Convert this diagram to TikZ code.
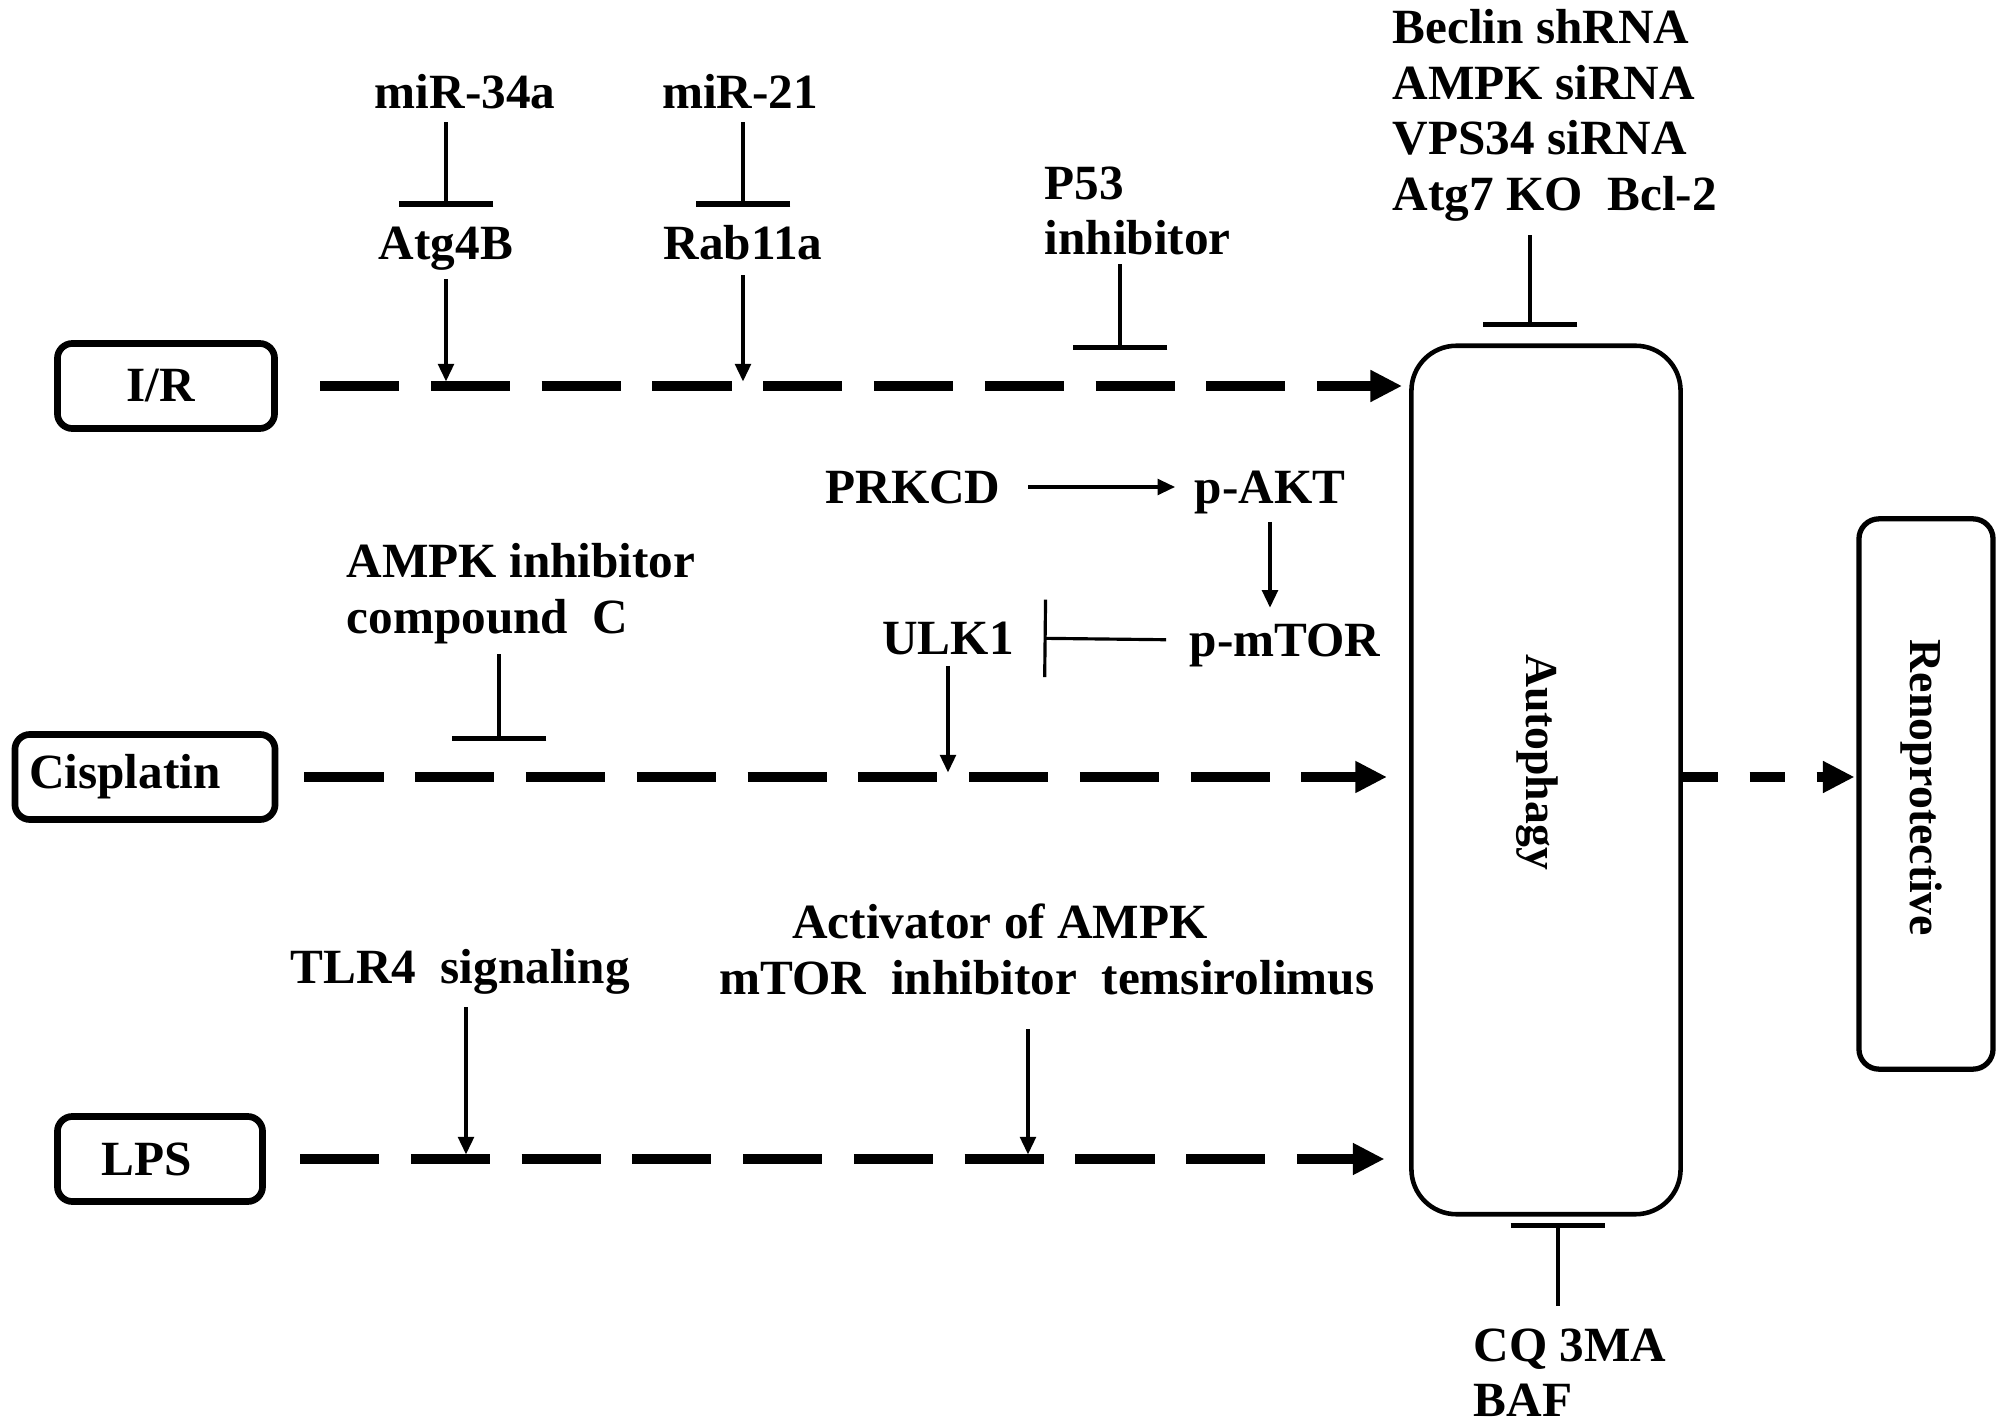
\documentclass[tikz,border=0pt]{standalone}
\usepackage{fontspec}
\setmainfont{Liberation Serif}
\usetikzlibrary{arrows.meta,positioning}

\begin{document}
\begin{tikzpicture}[
  x=0.01cm, y=-0.01cm,
  lbl/.style={font=\fontsize{14}{15.8}\selectfont\bfseries, inner sep=0pt, text height=9.4pt, text depth=0pt},
  multi/.style={font=\fontsize{14}{15.8}\selectfont\bfseries, inner sep=0pt, align=left, anchor=north west},
  stim/.style={draw, line width=1.9pt, rounded corners=0.15cm, minimum height=0.85cm, font=\fontsize{14}{15.8}\selectfont\bfseries},
  stage/.style={draw, line width=1.3pt},
  vtext/.style={rotate=-90, inner sep=0pt, font=\fontsize{13}{15}\selectfont\bfseries},
  pathway/.style={line width=2.6pt, dash pattern=on 22.5pt off 9pt, -{Triangle[length=9pt, width=8.5pt]}},
  act/.style={line width=0.9pt, -{Triangle[length=5pt, width=4.5pt]}},
  inhib/.style={line width=0.9pt, -{Bar[width=27pt, line width=1.5pt]}}
]
  \useasboundingbox (0,0) rectangle (2008,1428);

  % stimuli and outcome
  \node[stim, minimum width=2.17cm] (ir) at (166,386) {I/R\kern0.1cm};
  \node[stim, minimum width=2.60cm] (cis) at (145,777) {Cisplatin\kern0.4cm};
  \node[stim, minimum width=2.05cm] (lps) at (160,1159) {LPS\kern0.26cm};
  \node[stage, rounded corners=0.45cm, minimum width=2.69cm, minimum height=8.68cm] (autophagy) at (1546,780) {};
  \node[vtext] (autolbl) at (1537,762) {Autophagy};
  \node[stage, line width=1.5pt, rounded corners=0.2cm, minimum width=1.34cm, minimum height=5.50cm] (reno) at (1926,794) {};
  \node[vtext] (renolbl) at (1921,788) {Renoprotective};

  % regulators
  \node[lbl] (mir34) at (465,92) {miR-34a};
  \node[lbl] (mir21) at (740,92) {miR-21};
  \node[lbl] (atg4b) at (446,243) {Atg4B};
  \node[lbl] (rab11a) at (743,243) {Rab11a};
  \node[multi] (p53) at (1044,166) {P53\\inhibitor};
  \node[multi] (beclin) at (1392,9) {Beclin shRNA\\AMPK siRNA\\VPS34 siRNA\\Atg7 KO\ \ Bcl-2};
  \node[lbl] (prkcd) at (913,487) {PRKCD};
  \node[lbl] (pakt) at (1270,487) {p-AKT};
  \node[lbl] (pmtor) at (1285,640) {p-mTOR};
  \node[lbl] (ulk1) at (948,638) {ULK1};
  \node[multi] (ampkinh) at (346,543) {AMPK inhibitor\\compound\ \ C};
  \node[lbl] (tlr4) at (460,967) {TLR4\ \ signaling};
  \node[lbl] (activ) at (1000,922) {Activator of AMPK};
  \node[lbl] (mtorinh) at (1047,978) {mTOR\ \ inhibitor\ \ temsirolimus};
  \node[multi] (cq) at (1473,1328) {CQ 3MA\\BAF};

  \coordinate (p53bar) at (1120,350);
  \coordinate (ampkbar) at (499,741);

  % main pathways
  \draw[pathway, shorten <=12pt, shorten >=2pt] (ir.east) -- (ir.east -| autophagy.west);
  \draw[pathway, shorten <=7.4pt, shorten >=6.3pt] (cis.east) -- (cis.east -| autophagy.west);
  \draw[pathway, shorten <=9.7pt, shorten >=7pt] (lps.east) -- (lps.east -| autophagy.west);
  \draw[pathway, dash pattern=on 10pt off 9pt, shorten >=0.5pt] (cis.east -| autophagy.east) -- (cis.east -| reno.west);

  % I/R branch
  \draw[inhib, shorten <=3.7pt, shorten >=5.4pt] (mir34.south -| atg4b.north) -- (atg4b.north);
  \draw[inhib, shorten <=3.7pt, shorten >=5.4pt] (mir21.south -| rab11a.north) -- (rab11a.north);
  \draw[act, shorten <=5.4pt, shorten >=1.3pt] (atg4b.south) -- (atg4b.south |- ir.east);
  \draw[act, shorten <=4.3pt, shorten >=1.3pt] (rab11a.south) -- (rab11a.south |- ir.east);
  \draw[inhib, shorten <=2.3pt] (p53bar |- p53.south) -- (p53bar);
  \draw[inhib, shorten <=3.7pt, shorten >=4.6pt] ([xshift=-0.16cm]beclin.south -| autophagy.north) -- ([xshift=-0.16cm]autophagy.north);

  % cisplatin branch
  \draw[act, shorten <=7.7pt, shorten >=5.4pt] (prkcd.east) -- (pakt.west);
  \draw[act, shorten <=5pt, shorten >=4.3pt] (pakt.south) -- (pakt.south |- pmtor.north);
  \draw[inhib, -{Bar[width=22pt, line width=0.9pt]}, shorten <=6.5pt, shorten >=8.3pt] (pmtor.west) -- (ulk1.east);
  \draw[act, shorten <=3pt, shorten >=1.3pt] (ulk1.south) -- (ulk1.south |- cis.east);
  \draw[inhib, shorten <=2.8pt] (ampkbar |- ampkinh.south) -- (ampkbar);

  % LPS branch
  \draw[act, shorten <=6.5pt, shorten >=1.3pt] ([xshift=0.06cm]tlr4.south) -- ([xshift=0.06cm]tlr4.south |- lps.east);
  \draw[act, shorten <=9.7pt, shorten >=1.3pt] ([xshift=-0.19cm]mtorinh.south) -- ([xshift=-0.19cm]mtorinh.south |- lps.east);
  \draw[inhib, shorten <=6.3pt, shorten >=1.7pt] ([xshift=0.12cm]cq.north -| autophagy.south) -- ([xshift=0.12cm]autophagy.south);
\end{tikzpicture}
\end{document}
